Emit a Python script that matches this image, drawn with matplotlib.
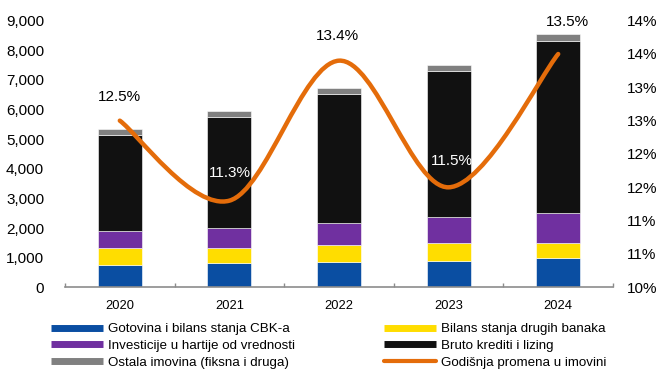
import matplotlib
matplotlib.use("Agg")
from matplotlib import pyplot as plt
from matplotlib.path import Path
from matplotlib.patches import PathPatch
from matplotlib.lines import Line2D
from matplotlib.ticker import FixedLocator, FuncFormatter
import numpy as np

plt.rcParams['font.family'] = ['Liberation Sans', 'DejaVu Sans']

years = ['2020', '2021', '2022', '2023', '2024']

# assets by category (stacked bars, left axis)
gotovina = [750, 810, 840, 880, 1000]
druge_banke = [580, 510, 590, 610, 500]
investicije = [580, 680, 750, 890, 1020]
krediti = [3240, 3760, 4340, 4920, 5790]
ostala = [180, 190, 220, 210, 240]

# annual change in assets, % (right axis)
promena = [12.5, 11.3, 13.4, 11.5, 13.5]

series_labels = ['Gotovina i bilans stanja CBK-a', 'Bilans stanja drugih banaka',
                 'Investicije u hartije od vrednosti', 'Bruto krediti i lizing',
                 'Ostala imovina (fiksna i druga)']
line_label = 'Godišnja promena u imovini'

colors = ['#0A4EA2', '#FFDD00', '#7030A0', '#111111', '#808080']
orange = '#E46C0A'

fig = plt.figure(figsize=(6.6, 3.69), dpi=100)
ax = fig.add_axes([0.0985, 0.2214, 0.8303, 0.7226])
x = np.arange(len(years))

bottom = np.zeros(len(years))
for vals, c in zip([gotovina, druge_banke, investicije, krediti, ostala], colors):
    ax.bar(x, vals, width=0.4, bottom=bottom, color=c, edgecolor='white',
           linewidth=0.4, zorder=2)
    bottom += np.array(vals)

ax.set_xlim(-0.5, len(years) - 0.5)
ax.set_ylim(0, 9000)
ax.set_yticks(np.arange(0, 9001, 1000))
ax.yaxis.set_major_formatter(FuncFormatter(lambda v, p: f'{int(v):,}'))
ax.tick_params(axis='y', length=0, pad=15, labelsize=11)
ax.set_xticks(x)
ax.set_xticklabels(years)
ax.xaxis.set_minor_locator(FixedLocator(np.arange(-0.5, len(years), 1.0)))
ax.tick_params(axis='x', which='major', length=0, pad=9.5, labelsize=9.3)
ax.tick_params(axis='x', which='minor', length=3, width=1, color='#8C8C8C',
               direction='in')
for s in ['top', 'left', 'right']:
    ax.spines[s].set_visible(False)
ax.spines['bottom'].set_color('#8C8C8C')
ax.spines['bottom'].set_linewidth(1.2)

ax2 = ax.twinx()
ax2.set_ylim(10, 14)
ax2.set_yticks(np.arange(10, 14.01, 0.5))
ax2.yaxis.set_major_formatter(FuncFormatter(lambda v, p: f'{int(v + 0.5)}%'))
ax2.tick_params(axis='y', length=0, pad=10, labelsize=11)
for s in ax2.spines.values():
    s.set_visible(False)

# smoothed line: Catmull-Rom segments converted to cubic Bezier
pts = np.column_stack([x, promena]).astype(float)
ext = np.vstack([pts[0], pts, pts[-1]])
verts = [pts[0]]
codes = [Path.MOVETO]
for i in range(len(pts) - 1):
    p0, p1, p2, p3 = ext[i], ext[i + 1], ext[i + 2], ext[i + 3]
    verts += [p1 + (p2 - p0) / 6, p2 - (p3 - p1) / 6, p2]
    codes += [Path.CURVE4] * 3
ax2.add_patch(PathPatch(Path(verts, codes), facecolor='none', edgecolor=orange,
                        linewidth=3.2, capstyle='round', zorder=3))

label_offsets = [(0, 17), (0, 20), (-1, 18), (2, 19), (7, 23)]
label_colors = ['black', 'white', 'black', 'white', 'black']
for xi, v, off, c in zip(x, promena, label_offsets, label_colors):
    ax2.annotate(f'{v:.1f}%', (xi, v), xytext=off, textcoords='offset points',
                 ha='center', va='center', fontsize=11, color=c, zorder=4)

handles = [Line2D([], [], color=c, linewidth=5, solid_capstyle='butt') for c in colors]
handles.append(Line2D([], [], color=orange, linewidth=3, solid_capstyle='round'))
labels = series_labels + [line_label]

leg_kw = dict(loc='upper left', frameon=False, borderpad=0, borderaxespad=0,
              handlelength=3.9, handletextpad=0.38, labelspacing=0.34,
              prop={'size': 9.6})
fig.legend([handles[0], handles[2], handles[4]], [labels[0], labels[2], labels[4]],
           bbox_to_anchor=(0.0768, 0.125), **leg_kw)
fig.legend([handles[1], handles[3], handles[5]], [labels[1], labels[3], labels[5]],
           bbox_to_anchor=(0.582, 0.125), **leg_kw)

fig.savefig('out.png', dpi=100)
